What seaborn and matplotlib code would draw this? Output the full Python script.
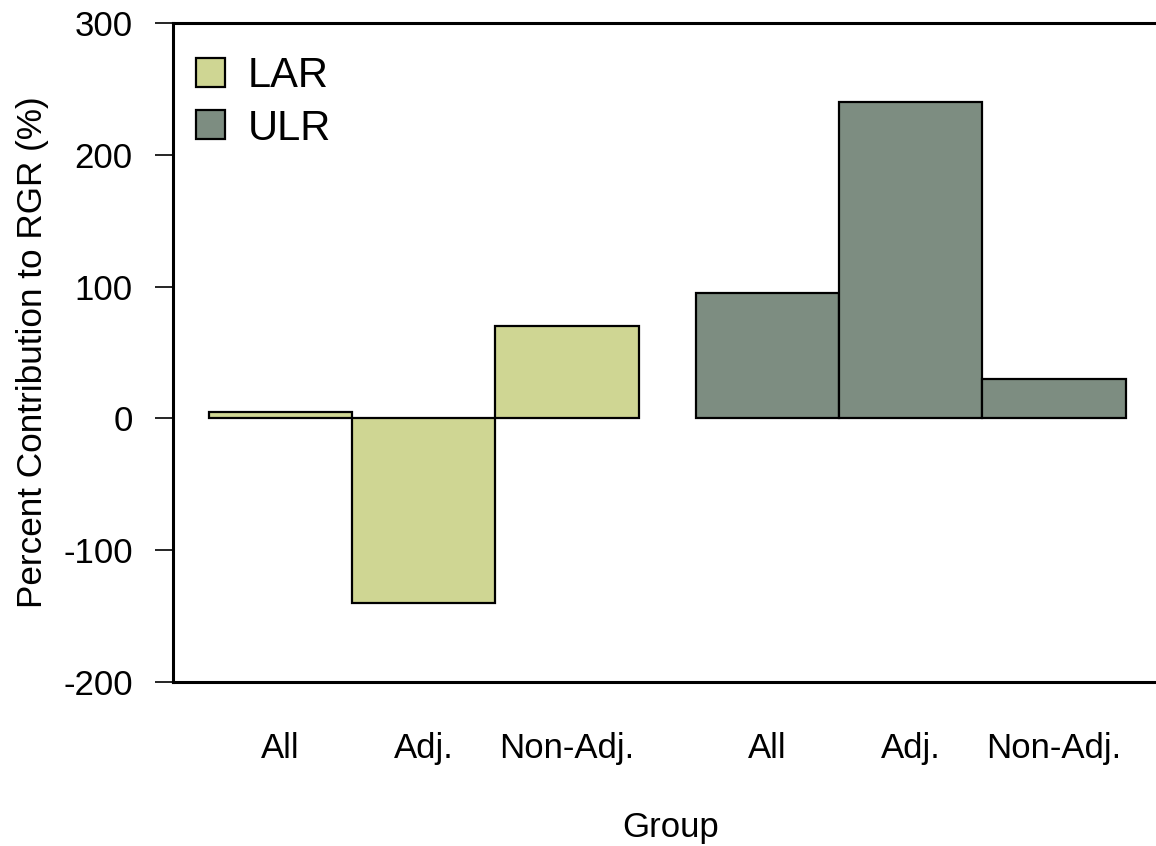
import numpy as np
import pandas as pd
import matplotlib
matplotlib.use("Agg")
import matplotlib.pyplot as plt
from matplotlib.patches import Patch
import seaborn as sns

series = ["LAR", "ULR"]
groups = ["All", "Adj.", "Non-Adj."]
lar_values = [5, -140, 70]
ulr_values = [95, 240, 30]
yticks = [-200, -100, 0, 100, 200, 300]
colors = {"LAR": "#cfd693", "ULR": "#7d8d81"}

sns.set_theme(style="white")
plt.rcParams["font.family"] = ["Liberation Sans", "DejaVu Sans"]
plt.rcParams["text.color"] = "black"
plt.rcParams["axes.labelcolor"] = "black"
plt.rcParams["xtick.color"] = "black"
plt.rcParams["ytick.color"] = "black"

rows = []
gap = 0.4
for si, (s, vals) in enumerate(zip(series, [lar_values, ulr_values])):
    for gi, (g, v) in enumerate(zip(groups, vals)):
        rows.append({"pos": si * (len(groups) + gap) + gi + 0.5, "value": v,
                     "series": s, "group": g})
df = pd.DataFrame(rows)

fig = plt.figure(figsize=(11.56, 8.46), dpi=100)
ax = fig.add_axes([173 / 1156, 1 - 682 / 846, 1.011 - 173 / 1156, (682 - 23) / 846])

sns.barplot(data=df, x="pos", y="value", hue="series", native_scale=True,
            dodge=False, width=1, palette=colors, edgecolor="black",
            linewidth=1.6, legend=False, ax=ax, saturation=1)

ax.set_xlim(-0.25, 6.7)
ax.set_ylim(-200, 300)
ax.set_yticks(yticks)
ax.set_yticklabels([str(t) for t in yticks], fontsize=25)
ax.set_xticks(df["pos"])
ax.set_xticklabels(df["group"], fontsize=25)
ax.tick_params(axis="y", direction="out", length=13, width=1.2, pad=16, left=True,
               colors="black")
ax.tick_params(axis="x", length=0, pad=36, colors="black")
for side in ["left", "top", "bottom", "right"]:
    ax.spines[side].set_visible(True)
    ax.spines[side].set_linewidth(2.2)
    ax.spines[side].set_color("black")
ax.grid(False)
ax.set_xlabel("Group", fontsize=25, labelpad=33, color="black")
ax.set_ylabel("Percent Contribution to RGR (%)", fontsize=25.3, labelpad=10,
              color="black")

handles = [Patch(facecolor=colors[s], edgecolor="black", linewidth=1.6) for s in series]
leg = ax.legend(handles, series, loc="upper left",
                bbox_to_anchor=(196 / 1156, 1 - 56 / 846),
                bbox_transform=fig.transFigure, frameon=False, fontsize=30,
                handlelength=0.7, handleheight=0.7, handletextpad=0.55,
                labelspacing=0.3, borderaxespad=0, borderpad=0)
for t in leg.get_texts():
    t.set_color("black")

fig.savefig("out.png", dpi=100)
